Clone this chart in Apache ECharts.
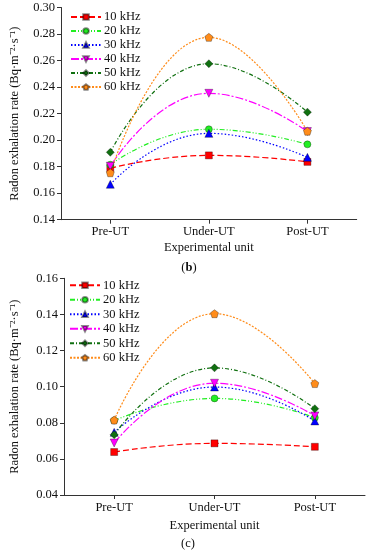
<!DOCTYPE html>
<html>
<head>
<meta charset="utf-8">
<script src="https://cdn.jsdelivr.net/npm/echarts@6/dist/echarts.min.js"></script>
<style>html,body{margin:0;padding:0;background:#fff}#c{width:368px;height:550px}</style>
</head>
<body>
<div id="c"></div>
<script>
const categories = ['Pre-UT', 'Under-UT', 'Post-UT'];
const seriesNames = ['10 kHz', '20 kHz', '30 kHz', '40 kHz', '50 kHz', '60 kHz'];
const yTicksB = [0.14, 0.16, 0.18, 0.20, 0.22, 0.24, 0.26, 0.28, 0.30];
const yTicksC = [0.04, 0.06, 0.08, 0.10, 0.12, 0.14, 0.16];

// Panel (b)
const b10 = [0.1788, 0.1885, 0.1836];
const b20 = [0.1815, 0.2082, 0.1968];
const b30 = [0.1667, 0.2051, 0.1870];
const b40 = [0.1803, 0.2353, 0.2065];
const b50 = [0.1908, 0.2576, 0.2211];
const b60 = [0.1754, 0.2775, 0.2067];

// Panel (c)
const c10 = [0.0638, 0.0686, 0.0667];
const c20 = [0.0812, 0.0935, 0.0828];
const c30 = [0.0747, 0.0998, 0.0810];
const c40 = [0.0688, 0.1019, 0.0838];
const c50 = [0.0734, 0.1104, 0.0878];
const c60 = [0.0815, 0.1404, 0.1017];

const dataB = [b10, b20, b30, b40, b50, b60];
const dataC = [c10, c20, c30, c40, c50, c60];

const colors = ['#ff0000', '#22ee22', '#0000ff', '#ff00ff', '#107010', '#ff8c1a'];
const dashes = [[6, 3], [5, 2, 1, 2, 1, 2], [1.5, 2], [8, 2, 2, 2], [4, 2, 1, 2], [2, 1.5]];
const pentagon = 'path://M0,-1 L0.951,-0.309 L0.588,0.809 L-0.588,0.809 L-0.951,-0.309 Z';
const symbols = ['rect', 'circle', 'triangle', 'triangle', 'diamond', pentagon];
const rotates = [0, 0, 0, 180, 0, 0];
const sizes = [7, 7, 8, 8, 8, 8];

const FONT = 'Liberation Serif';
const FS = 12.5;
const axisColor = '#333';

function xAxis(gi, gap) {
  return {
    type: 'category', gridIndex: gi, data: categories, boundaryGap: true,
    axisLine: {lineStyle: {color: axisColor, width: 1}},
    axisTick: {show: true, alignWithLabel: true, length: 4, inside: false, lineStyle: {color: axisColor}},
    axisLabel: {fontFamily: FONT, fontSize: FS, color: '#111', margin: 6},
    name: 'Experimental unit', nameLocation: 'middle', nameGap: gap,
    nameTextStyle: {fontFamily: FONT, fontSize: FS, color: '#111'},
    splitLine: {show: false}
  };
}
function yAxis(gi, ticks, nameGap) {
  return {
    type: 'value', gridIndex: gi, min: ticks[0], max: ticks[ticks.length - 1], interval: 0.02,
    axisLine: {show: true, lineStyle: {color: axisColor, width: 1}},
    axisTick: {show: true, length: 4, lineStyle: {color: axisColor}},
    axisLabel: {fontFamily: FONT, fontSize: FS, color: '#111', margin: 6, formatter: v => v.toFixed(2)},
    splitLine: {show: false},
    name: 'Radon exhalation rate (Bq\u00b7m\u207b\u00b2\u00b7s\u207b\u00b9)', nameLocation: 'middle', nameGap: nameGap, nameRotate: 90,
    nameTextStyle: {fontFamily: FONT, fontSize: FS, color: '#111'}
  };
}

const series = [];
[dataB, dataC].forEach((set, gi) => {
  set.forEach((vals, i) => {
    series.push({
      name: seriesNames[i], type: 'line', xAxisIndex: gi, yAxisIndex: gi,
      data: vals, smooth: 0.5, symbol: symbols[i], symbolRotate: rotates[i], symbolSize: sizes[i],
      lineStyle: {color: colors[i], width: 1.2, type: dashes[i]},
      itemStyle: {color: colors[i], borderColor: 'rgba(0,0,0,0.45)', borderWidth: 0.7},
      emphasis: {disabled: true}
    });
  });
});

function legend(top, left, lh) {
  return {
    orient: 'vertical', left: left, top: top, data: seriesNames,
    itemWidth: 30, itemHeight: 7, itemGap: 0,
    textStyle: {fontFamily: FONT, fontSize: FS, lineHeight: lh, color: '#111', padding: [0, 0, 0, -2]},
    selectedMode: false
  };
}

const chart = echarts.init(document.getElementById('c'), null, {renderer: 'canvas'});
chart.setOption({
  animation: false,
  backgroundColor: '#fff',
  grid: [
    {left: 58.3, right: 11.3, top: 7.5, height: 212.2},
    {left: 51.7, right: 3, top: 278.3, height: 216.7}
  ],
  xAxis: [xAxis(0, 22), xAxis(1, 24)],
  yAxis: [yAxis(0, yTicksB, 40), yAxis(1, yTicksC, 43)],
  legend: [legend(5, 65, 14), legend(273, 64, 14.5)],
  title: [
    {text: '({b|b})', left: 184, top: 256, textAlign: 'center',
     textStyle: {fontFamily: FONT, fontSize: FS, fontWeight: 'normal', color: '#111', rich: {b: {fontFamily: FONT, fontSize: FS, fontWeight: 'bold', color: '#111'}}}},
    {text: '(c)', left: 183, top: 532, textAlign: 'center',
     textStyle: {fontFamily: FONT, fontSize: FS, fontWeight: 'normal', color: '#111'}}
  ],
  series: series
});
</script>
</body>
</html>
